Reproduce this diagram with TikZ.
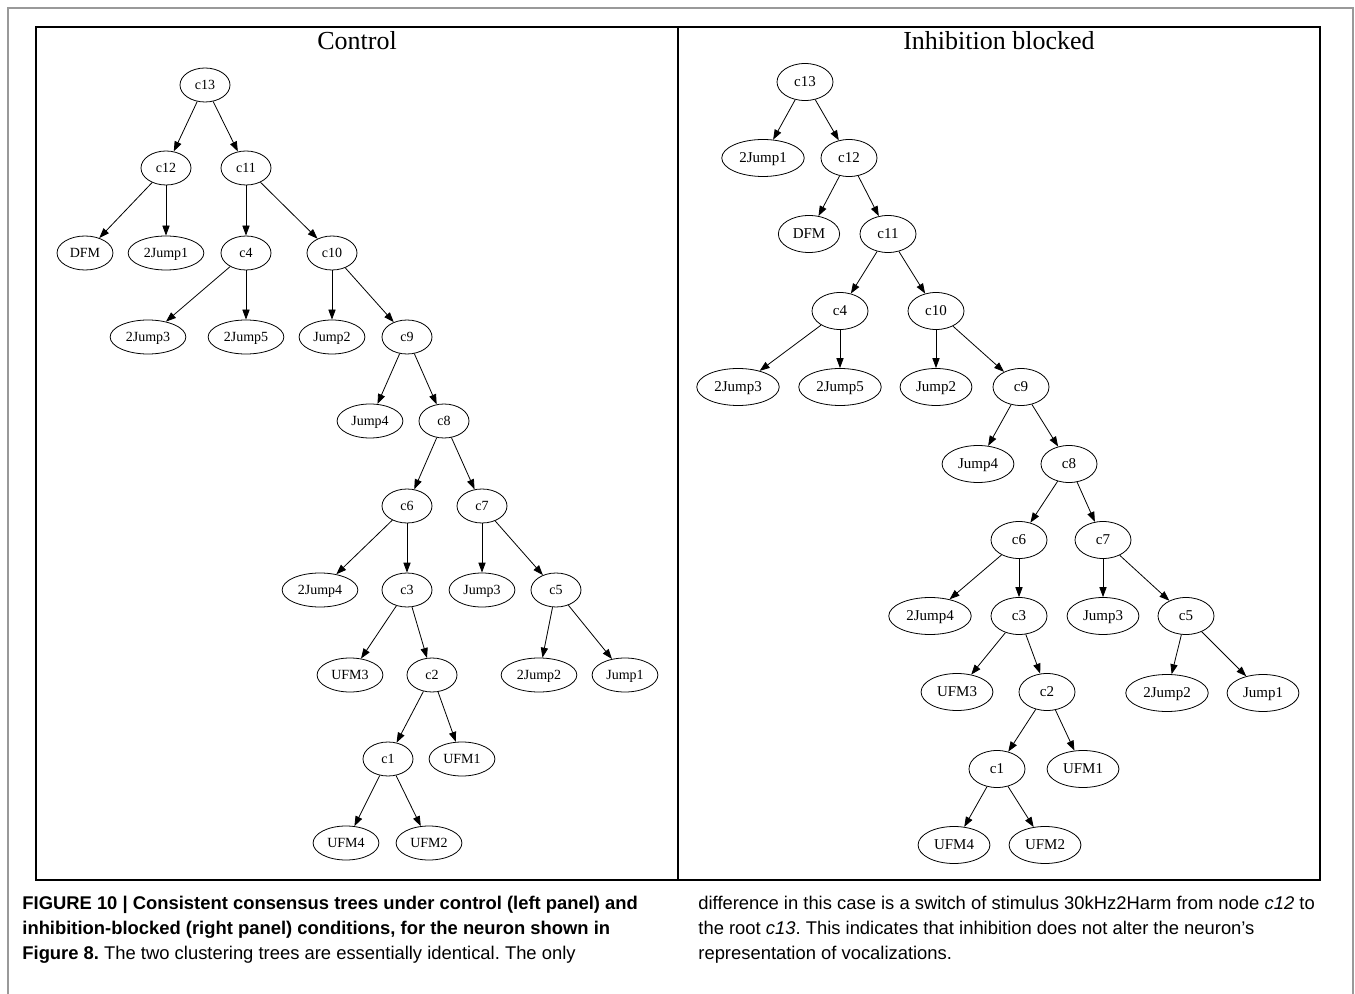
\documentclass[tikz,border=0pt]{standalone}
\usepackage{fontspec}
\setmainfont{Liberation Serif}
\newfontfamily\capfont{Liberation Sans}
\usetikzlibrary{arrows.meta, shapes.geometric}
\frenchspacing

\tikzset{
	lnode/.style={draw, ellipse, line width=0.4pt, font=\fontsize{7}{8}\selectfont,
		text height=4.8pt, text depth=0.6pt,
		minimum width=25pt, minimum height=17pt, inner xsep=2.3pt, inner ysep=1pt},
	rnode/.style={draw, ellipse, line width=0.4pt, font=\fontsize{7.5}{8.5}\selectfont,
		text height=5.1pt, text depth=0.6pt,
		minimum width=28pt, minimum height=18.5pt, inner xsep=2.7pt, inner ysep=1pt},
	edge/.style={line width=0.4pt, -{Triangle[length=5pt, width=3.6pt]}},
	title/.style={font=\fontsize{13}{15}\selectfont},
	capline/.style={anchor=base west, inner sep=0pt, font=\capfont\fontsize{9.2}{11}\selectfont}
}

\begin{document}
\begin{tikzpicture}[x=0.5pt, y=-0.5pt]
\useasboundingbox (0,0) rectangle (1355,994);
% frames
\draw[gray!80, line width=0.7pt] (8,994) -- (8,8) -- (1353,8) -- (1353,994);
\draw[line width=0.9pt] (36,27) rectangle (1320,880);
\draw[line width=0.9pt] (678,27) -- (678,880);
\node[title] (tctrl) at (357,41) {Control};
\node[title] (tinh) at (999,41) {Inhibition blocked};

% left tree (control)
\node[lnode] (l-c13) at (205,85) {c13};
\node[lnode] (l-c12) at (166,168) {c12};
\node[lnode] (l-c11) at (246,168) {c11};
\node[lnode] (l-DFM) at (85,253) {DFM};
\node[lnode] (l-2Jump1) at (166,253) {2Jump1};
\node[lnode] (l-c4) at (246,253) {c4};
\node[lnode] (l-c10) at (332,253) {c10};
\node[lnode] (l-2Jump3) at (148,337) {2Jump3};
\node[lnode] (l-2Jump5) at (246,337) {2Jump5};
\node[lnode] (l-Jump2) at (332,337) {Jump2};
\node[lnode] (l-c9) at (407,337) {c9};
\node[lnode] (l-Jump4) at (370,421) {Jump4};
\node[lnode] (l-c8) at (444,421) {c8};
\node[lnode] (l-c6) at (407,506) {c6};
\node[lnode] (l-c7) at (482,506) {c7};
\node[lnode] (l-2Jump4) at (320,590) {2Jump4};
\node[lnode] (l-c3) at (407,590) {c3};
\node[lnode] (l-Jump3) at (482,590) {Jump3};
\node[lnode] (l-c5) at (556,590) {c5};
\node[lnode] (l-UFM3) at (350,675) {UFM3};
\node[lnode] (l-c2) at (432,675) {c2};
\node[lnode] (l-2Jump2) at (539,675) {2Jump2};
\node[lnode] (l-Jump1) at (625,675) {Jump1};
\node[lnode] (l-c1) at (388,759) {c1};
\node[lnode] (l-UFM1) at (462,759) {UFM1};
\node[lnode] (l-UFM4) at (346,843) {UFM4};
\node[lnode] (l-UFM2) at (429,843) {UFM2};

% right tree (inhibition blocked)
\node[rnode] (r-c13) at (805,82) {c13};
\node[rnode] (r-2Jump1) at (763,158) {2Jump1};
\node[rnode] (r-c12) at (849,158) {c12};
\node[rnode] (r-DFM) at (809,234) {DFM};
\node[rnode] (r-c11) at (888,234) {c11};
\node[rnode] (r-c4) at (840,311) {c4};
\node[rnode] (r-c10) at (936,311) {c10};
\node[rnode] (r-2Jump3) at (738,387) {2Jump3};
\node[rnode] (r-2Jump5) at (840,387) {2Jump5};
\node[rnode] (r-Jump2) at (936,387) {Jump2};
\node[rnode] (r-c9) at (1021,387) {c9};
\node[rnode] (r-Jump4) at (978,464) {Jump4};
\node[rnode] (r-c8) at (1069,464) {c8};
\node[rnode] (r-c6) at (1019,540) {c6};
\node[rnode] (r-c7) at (1103,540) {c7};
\node[rnode] (r-2Jump4) at (930,616) {2Jump4};
\node[rnode] (r-c3) at (1019,616) {c3};
\node[rnode] (r-Jump3) at (1103,616) {Jump3};
\node[rnode] (r-c5) at (1186,616) {c5};
\node[rnode] (r-UFM3) at (957,692) {UFM3};
\node[rnode] (r-c2) at (1047,692) {c2};
\node[rnode] (r-2Jump2) at (1167,693) {2Jump2};
\node[rnode] (r-Jump1) at (1263,693) {Jump1};
\node[rnode] (r-c1) at (997,769) {c1};
\node[rnode] (r-UFM1) at (1083,769) {UFM1};
\node[rnode] (r-UFM4) at (954,845) {UFM4};
\node[rnode] (r-UFM2) at (1045,845) {UFM2};

% edges
\foreach \a/\b in {c13/c12, c13/c11, c12/DFM, c12/2Jump1, c11/c4, c11/c10,
	c4/2Jump3, c4/2Jump5, c10/Jump2, c10/c9, c9/Jump4, c9/c8, c8/c6, c8/c7,
	c6/2Jump4, c6/c3, c7/Jump3, c7/c5, c3/UFM3, c3/c2, c5/2Jump2, c5/Jump1,
	c2/c1, c2/UFM1, c1/UFM4, c1/UFM2}
	\draw[edge] (l-\a) -- (l-\b);
\foreach \a/\b in {c13/2Jump1, c13/c12, c12/DFM, c12/c11, c11/c4, c11/c10,
	c4/2Jump3, c4/2Jump5, c10/Jump2, c10/c9, c9/Jump4, c9/c8, c8/c6, c8/c7,
	c6/2Jump4, c6/c3, c7/Jump3, c7/c5, c3/UFM3, c3/c2, c5/2Jump2, c5/Jump1,
	c2/c1, c2/UFM1, c1/UFM4, c1/UFM2}
	\draw[edge] (r-\a) -- (r-\b);

% caption
\node[capline] (cap1) at (22,909) {\bfseries FIGURE 10 | Consistent consensus trees under control (left panel) and};
\node[capline] (cap2) at (22,934) {\bfseries inhibition-blocked (right panel) conditions, for the neuron shown in};
\node[capline] (cap3) at (22,959) {\textbf{Figure 8.} The two clustering trees are essentially identical. The only};
\node[capline] (cap4) at (698,909) {difference in this case is a switch of stimulus 30kHz2Harm from node \textit{c12} to};
\node[capline] (cap5) at (698,934) {the root \textit{c13}. This indicates that inhibition does not alter the neuron’s};
\node[capline] (cap6) at (698,959) {representation of vocalizations.};
\end{tikzpicture}
\end{document}
